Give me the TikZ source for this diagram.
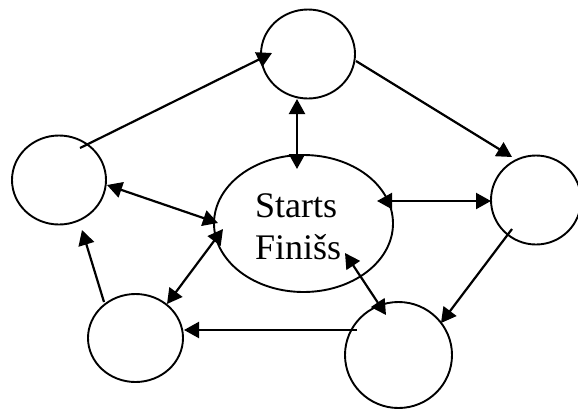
\documentclass[tikz,border=0pt]{standalone}
\usepackage{fontspec}
\setmainfont{Liberation Serif}
\usetikzlibrary{shapes.geometric,arrows.meta}
\begin{document}
\begin{tikzpicture}[x=1pt,y=-1pt,
  blob/.style={draw,ellipse,line width=1.9pt,inner sep=0pt},
  conn/.style={line width=2.2pt,-{Triangle[length=15pt,width=16pt]}},
  biconn/.style={line width=2.2pt,{Triangle[length=15pt,width=16pt]}-{Triangle[length=15pt,width=16pt]}},
  txt/.style={font=\fontsize{36}{42}\selectfont,inner sep=0pt}]
\useasboundingbox (0,0) rectangle (578,410);
\fill[white] (0,0) rectangle (578,410);
% nodes
\node[blob,minimum width=94pt,minimum height=89pt] (top) at (308,54) {};
\node[blob,minimum width=94pt,minimum height=89pt] (left) at (59,180) {};
\node[blob,minimum width=90pt,minimum height=89pt] (right) at (536,200) {};
\node[blob,minimum width=95pt,minimum height=88pt] (bl) at (135.5,338) {};
\node[blob,minimum width=107pt,minimum height=106pt] (br) at (398.5,355) {};
\node[blob,minimum width=179pt,minimum height=137pt] (mid) at (303.5,223.5) {};
\node[txt,anchor=base west] (t1) at (255,217) {Starts};
\node[txt,anchor=base west] (t2) at (255,259) {Finišs};
% connector end points
\coordinate (lt0) at (80,148);   \coordinate (lt1) at (272,53);
\coordinate (tr0) at (356,61);   \coordinate (tr1) at (512,157);
\coordinate (tm0) at (297,99);   \coordinate (tm1) at (297,169);
\coordinate (mr0) at (377,201);  \coordinate (mr1) at (491,201);
\coordinate (rb0) at (512,229);  \coordinate (rb1) at (441,323);
\coordinate (bb0) at (357,330);  \coordinate (bb1) at (184,330);
\coordinate (bl0) at (104,302);  \coordinate (bl1) at (82,230);
\coordinate (lm0) at (107,185);  \coordinate (lm1) at (218,223);
\coordinate (mb0) at (223,229);  \coordinate (mb1) at (167,304);
\coordinate (mbr0) at (345,253); \coordinate (mbr1) at (386,315);
% connectors
\draw[conn] (lt0) -- (lt1);
\draw[conn] (tr0) -- (tr1);
\draw[biconn] (tm0) -- (tm1);
\draw[biconn] (mr0) -- (mr1);
\draw[conn] (rb0) -- (rb1);
\draw[conn] (bb0) -- (bb1);
\draw[conn] (bl0) -- (bl1);
\draw[biconn] (lm0) -- (lm1);
\draw[biconn] (mb0) -- (mb1);
\draw[biconn] (mbr0) -- (mbr1);
\end{tikzpicture}
\end{document}
